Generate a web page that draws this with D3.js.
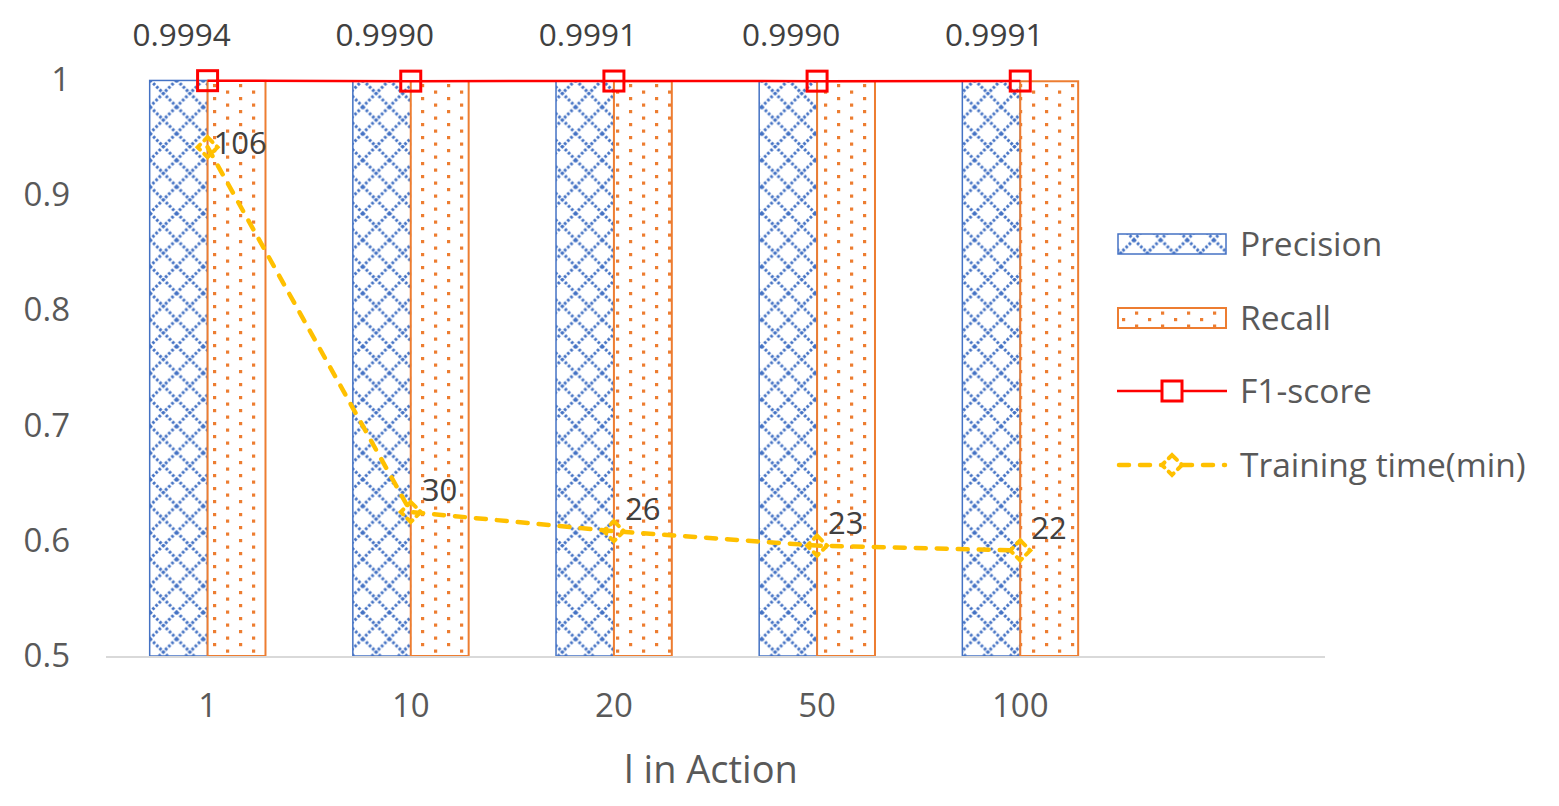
<!DOCTYPE html>
<html>
<head>
<meta charset="utf-8">
<script src="https://cdn.jsdelivr.net/npm/d3@7"></script>
<style>
  body { margin: 0; background: #fff; }
  text { font-family: "Open Sans", "Noto Sans", sans-serif; }
</style>
</head>
<body>
<div id="chart"></div>
<script>
var categories = ["1", "10", "20", "50", "100"];
var precision = [0.9996, 0.9989, 0.9993, 0.9990, 0.9993];
var recall = [0.9992, 0.9991, 0.9989, 0.9990, 0.9989];
var f1 = [0.9994, 0.9990, 0.9991, 0.9990, 0.9991];
var trainTime = [106, 30, 26, 23, 22];
var yTicks = [0.5, 0.6, 0.7, 0.8, 0.9, 1];
var seriesNames = ["Precision", "Recall", "F1-score", "Training time(min)"];

var width = 1559, height = 806,
    plotLeft = 106, plotRight = 1325, plotTop = 80, plotBottom = 656,
    blue = "#4472C4", orange = "#ED7D31", red = "#FF0000", gold = "#FFC000",
    grey = "#595959";

var svg = d3.select("#chart").append("svg")
    .attr("width", width)
    .attr("height", height);

// patterns for bar fills
var defs = svg.append("defs");
var lattice = defs.append("pattern")
    .attr("id", "lattice")
    .attr("patternUnits", "userSpaceOnUse")
    .attr("width", 26.6).attr("height", 26.6)
    .attr("x", 150).attr("y", 80);
lattice.append("rect").attr("width", 26.6).attr("height", 26.6).attr("fill", "#fff");
lattice.append("path")
    .attr("d", "M0,0L26.6,26.6M26.6,0L0,26.6")
    .attr("stroke", blue)
    .attr("stroke-width", 3)
    .attr("stroke-dasharray", "2.6 1.9");

var dots = defs.append("pattern")
    .attr("id", "dots")
    .attr("patternUnits", "userSpaceOnUse")
    .attr("width", 26).attr("height", 13)
    .attr("x", 213).attr("y", 84);
dots.append("rect").attr("width", 26).attr("height", 13).attr("fill", "#fff");
dots.append("rect").attr("x", 0).attr("y", 0).attr("width", 3.2).attr("height", 3.2).attr("fill", orange);
dots.append("rect").attr("x", 13).attr("y", 6.5).attr("width", 3.2).attr("height", 3.2).attr("fill", orange);

// scales: the category axis has room for six slots, five are used
var x = d3.scaleBand()
    .domain(categories)
    .range([plotLeft, plotLeft + (plotRight - plotLeft) * 5 / 6]);
var y = d3.scaleLinear().domain([0.5, 1]).range([plotBottom, plotTop]);
var y2 = d3.scaleLinear().domain([0, 120]).range([plotBottom, plotTop]);

var barW = x.bandwidth() * 0.285;
var cx = function(i) { return x(categories[i]) + x.bandwidth() / 2; };

// y axis labels
var yAxis = svg.append("g")
    .attr("transform", "translate(" + plotLeft + ",0)")
    .call(d3.axisLeft(y).tickValues(yTicks).tickSize(0).tickPadding(36)
      .tickFormat(function(d) { return d === 1 ? "1" : d3.format(".1f")(d); }));
yAxis.select(".domain").remove();
yAxis.selectAll("text").attr("fill", grey).attr("font-size", 33);

// bars
svg.append("g").selectAll("rect")
    .data(precision)
    .enter().append("rect")
    .attr("x", function(d, i) { return cx(i) - barW; })
    .attr("y", function(d) { return y(d); })
    .attr("width", barW)
    .attr("height", function(d) { return plotBottom - y(d); })
    .attr("fill", "url(#lattice)")
    .attr("stroke", blue)
    .attr("stroke-width", 1.5);

svg.append("g").selectAll("rect")
    .data(recall)
    .enter().append("rect")
    .attr("x", function(d, i) { return cx(i); })
    .attr("y", function(d) { return y(d); })
    .attr("width", barW)
    .attr("height", function(d) { return plotBottom - y(d); })
    .attr("fill", "url(#dots)")
    .attr("stroke", orange)
    .attr("stroke-width", 2);

// x axis
var xAxis = svg.append("g")
    .attr("transform", "translate(0," + plotBottom + ")")
    .call(d3.axisBottom(x).tickSize(0).tickPadding(38));
xAxis.select(".domain").remove();
xAxis.selectAll("text").attr("fill", grey).attr("font-size", 33);
svg.append("line")
    .attr("x1", plotLeft).attr("x2", plotRight)
    .attr("y1", plotBottom + 1).attr("y2", plotBottom + 1)
    .attr("stroke", "#d9d9d9").attr("stroke-width", 2);

svg.append("text")
    .attr("x", 711).attr("y", 783)
    .attr("text-anchor", "middle")
    .attr("fill", grey)
    .attr("font-size", 38)
    .text("l in Action");

// training time line
var tLine = d3.line()
    .x(function(d, i) { return cx(i); })
    .y(function(d) { return y2(d); });
svg.append("path")
    .datum(trainTime)
    .attr("d", tLine)
    .attr("fill", "none")
    .attr("stroke", gold)
    .attr("stroke-width", 4.5)
    .attr("stroke-linecap", "round")
    .attr("stroke-dasharray", "10 11");

var diamond = "M0,-10L10,0L0,10L-10,0Z";
svg.append("g").selectAll("path")
    .data(trainTime)
    .enter().append("path")
    .attr("d", diamond)
    .attr("transform", function(d, i) { return "translate(" + cx(i) + "," + y2(d) + ")"; })
    .attr("fill", "none")
    .attr("stroke", gold)
    .attr("stroke-width", 4)
    .attr("stroke-linecap", "round")
    .attr("stroke-dasharray", "7 6");

svg.append("g").selectAll("text")
    .data(trainTime)
    .enter().append("text")
    .attr("x", function(d, i) { return cx(i) + (i === 0 ? 6 : 11); })
    .attr("y", function(d, i) { return y2(d) + (i === 0 ? -4 : -22); })
    .attr("dy", "0.35em")
    .attr("fill", "#404040")
    .attr("font-size", 31)
    .text(function(d) { return d; });

// F1 line
var fLine = d3.line()
    .x(function(d, i) { return cx(i); })
    .y(function(d) { return y(d); });
svg.append("path")
    .datum(f1)
    .attr("d", fLine)
    .attr("fill", "none")
    .attr("stroke", red)
    .attr("stroke-width", 2.5);

svg.append("g").selectAll("rect")
    .data(f1)
    .enter().append("rect")
    .attr("x", function(d, i) { return cx(i) - 10; })
    .attr("y", function(d) { return y(d) - 10; })
    .attr("width", 20).attr("height", 20)
    .attr("fill", "none")
    .attr("stroke", red)
    .attr("stroke-width", 3);

svg.append("g").selectAll("text")
    .data(f1)
    .enter().append("text")
    .attr("x", function(d, i) { return cx(i) - 26; })
    .attr("y", function(d) { return y(d) - 46; })
    .attr("dy", "0.35em")
    .attr("text-anchor", "middle")
    .attr("fill", "#404040")
    .attr("font-size", 31.5)
    .text(function(d) { return d3.format(".4f")(d); });

// legend
var legend = svg.append("g").attr("transform", "translate(1117,0)");
var rowY = [244, 318, 391, 465];
legend.append("rect").attr("x", 1).attr("y", rowY[0] - 10).attr("width", 108).attr("height", 20)
    .attr("fill", "url(#lattice)").attr("stroke", blue).attr("stroke-width", 1.5);
legend.append("rect").attr("x", 1).attr("y", rowY[1] - 10).attr("width", 108).attr("height", 20)
    .attr("fill", "url(#dots)").attr("stroke", orange).attr("stroke-width", 2);
legend.append("line").attr("x1", 0).attr("x2", 110).attr("y1", rowY[2]).attr("y2", rowY[2])
    .attr("stroke", red).attr("stroke-width", 2.5);
legend.append("rect").attr("x", 45).attr("y", rowY[2] - 10).attr("width", 20).attr("height", 20)
    .attr("fill", "#fff").attr("stroke", red).attr("stroke-width", 3);
legend.append("line").attr("x1", 2).attr("x2", 108).attr("y1", rowY[3]).attr("y2", rowY[3])
    .attr("stroke", gold).attr("stroke-width", 4.5).attr("stroke-linecap", "round")
    .attr("stroke-dasharray", "10 11");
legend.append("path").attr("d", diamond).attr("transform", "translate(55," + rowY[3] + ")")
    .attr("fill", "#fff").attr("stroke", gold).attr("stroke-width", 4)
    .attr("stroke-linecap", "round").attr("stroke-dasharray", "7 6");
legend.selectAll("text.lg")
    .data(seriesNames)
    .enter().append("text")
    .attr("class", "lg")
    .attr("x", 123)
    .attr("y", function(d, i) { return rowY[i]; })
    .attr("dy", "0.35em")
    .attr("fill", grey)
    .attr("font-size", 33.5)
    .text(function(d) { return d; });
</script>
</body>
</html>
